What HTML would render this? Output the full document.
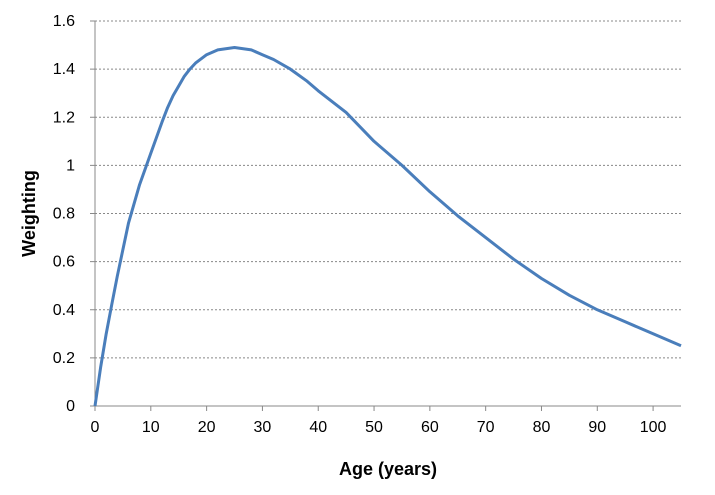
<!DOCTYPE html>
<html><head><meta charset="utf-8"><style>
body{margin:0;background:#fff;font-family:"Liberation Sans",Arial,sans-serif}
</style></head><body>
<svg id="chart" width="715" height="490" xmlns="http://www.w3.org/2000/svg"></svg>
<script>
const ages=[0,1,2,3,4,5,6,8,10,12,13,14,15,16,17,18,20,22,25,28,30,32,35,38,40,45,50,55,60,65,70,75,80,85,90,95,100,105];
const weights=[0,0.16,0.3,0.42,0.54,0.65,0.76,0.92,1.05,1.18,1.24,1.29,1.33,1.37,1.40,1.425,1.46,1.48,1.49,1.48,1.46,1.44,1.40,1.35,1.31,1.22,1.10,1.00,0.89,0.79,0.70,0.61,0.53,0.46,0.40,0.35,0.30,0.25];
const yTicks=[0,0.2,0.4,0.6,0.8,1,1.2,1.4,1.6];
const xTicks=[0,10,20,30,40,50,60,70,80,90,100];
const L=95,R=681,T=21,B=406,XMAX=105,YMAX=1.6;
const sx=v=>L+(R-L)*v/XMAX, sy=v=>B-(B-T)*v/YMAX;
const svg=document.getElementById('chart'),NS='http://www.w3.org/2000/svg';
function mk(tag,attrs,txt){const e=document.createElementNS(NS,tag);for(const k in attrs)e.setAttribute(k,attrs[k]);if(txt!==undefined)e.textContent=txt;svg.appendChild(e);return e;}
yTicks.forEach(t=>{
  if(t>0){const g=mk('line',{x1:L,x2:R,y1:sy(t),y2:sy(t),stroke:'#888','stroke-dasharray':'2,2','stroke-width':1});
  
  }
  const lb=mk('text',{x:75,y:sy(t)+5,'text-anchor':'end','font-size':16,fill:'#000'},String(t));
  
  
  const tk=mk('line',{x1:L-5,x2:L,y1:sy(t),y2:sy(t),stroke:'#888'});
  
  
});
xTicks.forEach(t=>{
  const lb=mk('text',{x:sx(t),y:432,'text-anchor':'middle','font-size':16,fill:'#000'},String(t));
  
  
  const tk=mk('line',{x1:sx(t),x2:sx(t),y1:B,y2:B+5,stroke:'#888'});
  
  
});
const ya=mk('line',{x1:L,x2:L,y1:T,y2:B,stroke:'#888'});


const xa=mk('line',{x1:L,x2:R,y1:B,y2:B,stroke:'#888'});


let d='';
ages.forEach((a,i)=>{d+=(i?'L':'M')+sx(a).toFixed(1)+','+sy(weights[i]).toFixed(1);});
const p=mk('path',{d:d,fill:'none',stroke:'#4a7ebb','stroke-width':3,'stroke-linejoin':'round'});


const xt=mk('text',{x:(L+R)/2,y:475,'text-anchor':'middle','font-size':18,'font-weight':'bold'},'Age (years)');


const yt=mk('text',{x:0,y:0,'text-anchor':'middle','font-size':18,'font-weight':'bold',transform:'translate(35,'+((T+B)/2)+') rotate(-90)'},'Weighting');


</script>
</body></html>
